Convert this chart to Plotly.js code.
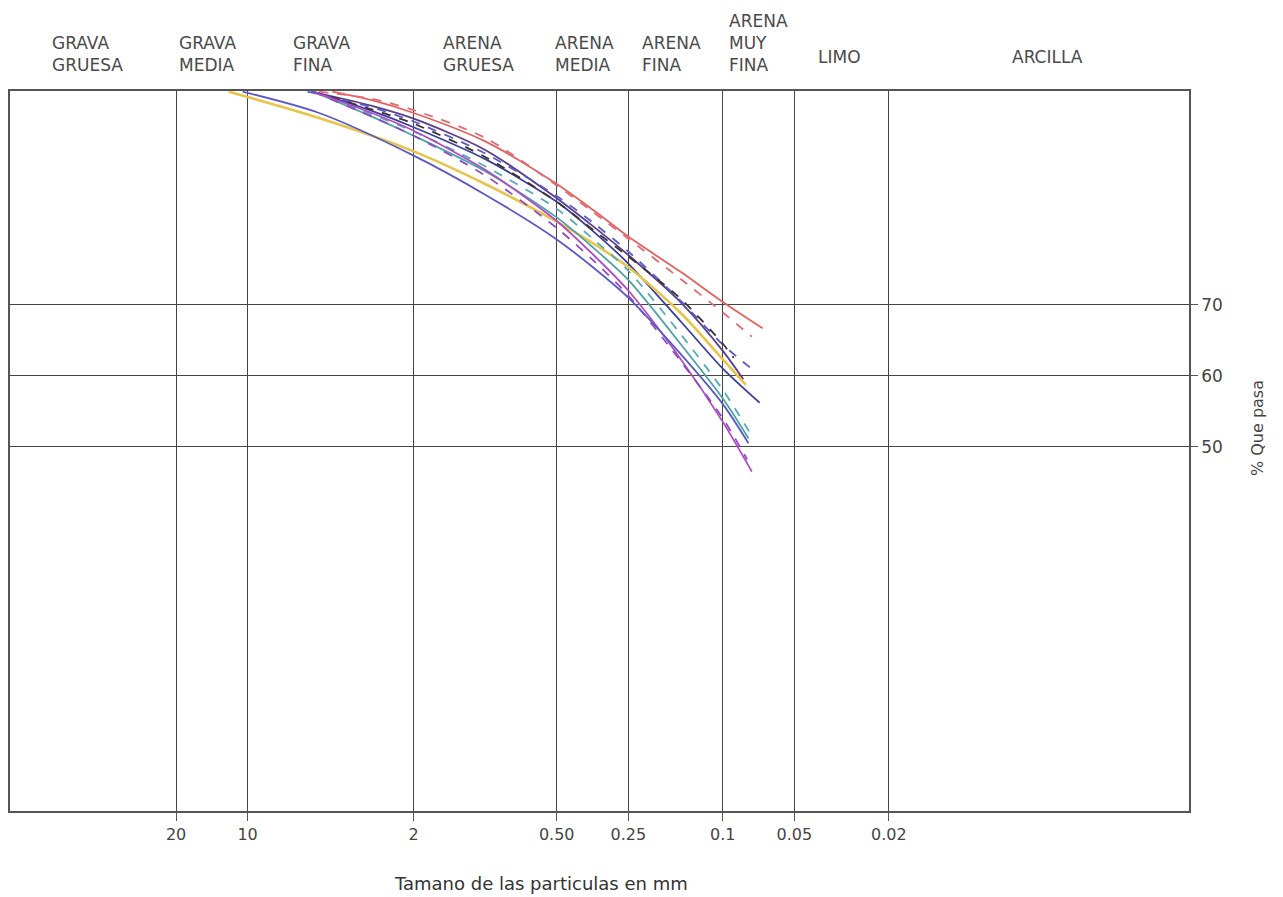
<!DOCTYPE html>
<html>
<head>
<meta charset="utf-8">
<script src="https://cdn.plot.ly/plotly-3.0.1.min.js"></script>
<style>html,body{margin:0;padding:0;background:#fff;}#chart{width:1283px;height:897px;}</style>
</head>
<body>
<div id="chart"></div>
<script>
// Particle size (mm) and % passing for each curve
const redSolidSize   = [4.4, 3, 2, 1, 0.5, 0.35, 0.25, 0.15, 0.1, 0.068];
const redSolidPct    = [100, 98.8, 97.0, 93.0, 87.0, 83.3, 79.6, 74.6, 70.4, 66.7];
const redDashSize    = [5.0, 3, 2, 1, 0.5, 0.35, 0.25, 0.15, 0.1, 0.0755];
const redDashPct     = [100, 99.0, 97.4, 93.5, 86.8, 83.0, 79.3, 73.6, 68.9, 65.5];
const purpleDarkSize = [5.4, 3, 2, 1, 0.5, 0.35, 0.25, 0.15, 0.1, 0.082];
const purpleDarkPct  = [100, 98.0, 96.2, 91.8, 85.0, 81.0, 77.0, 70.3, 63.5, 59.5];
const blueDashSize   = [5.6, 3, 2, 1, 0.5, 0.35, 0.25, 0.15, 0.1, 0.072];
const blueDashPct    = [100, 97.8, 95.8, 91.3, 85.3, 81.5, 77.5, 70.5, 64.4, 60.4];
const navySolidSize  = [5.3, 3, 2, 1, 0.5, 0.35, 0.25, 0.15, 0.1, 0.07];
const navySolidPct   = [100, 97.3, 95.0, 90.5, 84.5, 80.3, 75.8, 67.6, 61.0, 56.2];
const yellowSize     = [12.0, 5, 2, 1, 0.5, 0.35, 0.25, 0.15, 0.1, 0.08];
const yellowPct      = [100, 96.3, 91.6, 87.0, 81.7, 78.6, 75.3, 68.8, 62.3, 58.7];
const blackDashSize  = [5.3, 3, 2, 1, 0.5, 0.35, 0.25, 0.15, 0.1, 0.09];
const blackDashPct   = [100, 97.5, 95.5, 90.8, 84.5, 80.5, 76.8, 70.8, 64.5, 62.5];
const tealDashSize   = [5.3, 3, 2, 1, 0.5, 0.35, 0.25, 0.15, 0.1, 0.077];
const tealDashPct    = [100, 96.8, 94.4, 89.5, 83.5, 79.2, 74.8, 65.8, 58.0, 52.0];
const tealSolidSize  = [5.3, 3, 2, 1, 0.5, 0.35, 0.25, 0.15, 0.1, 0.078];
const tealSolidPct   = [100, 96.5, 93.8, 88.8, 82.3, 78.0, 73.5, 64.4, 56.8, 51.2];
const magentaSize    = [5.3, 3, 2, 1, 0.5, 0.35, 0.25, 0.15, 0.1, 0.0755];
const magentaPct     = [100, 97.0, 94.5, 89.0, 81.8, 77.0, 72.0, 62.3, 53.5, 46.5];
const purpleDashSize = [5.3, 3, 2, 1, 0.5, 0.35, 0.25, 0.15, 0.1, 0.079];
const purpleDashPct  = [100, 96.5, 93.8, 88.2, 80.8, 76.2, 71.3, 62.0, 54.0, 48.2];
const violetSize     = [10.5, 5, 2, 1, 0.5, 0.35, 0.25, 0.15, 0.1, 0.078];
const violetPct      = [100, 97.0, 91.0, 85.5, 79.2, 75.2, 71.0, 63.0, 56.0, 50.5];

const seriesNames  = ['rojo', 'rojo disc.', 'morado', 'azul disc.', 'azul', 'amarillo', 'negro disc.', 'verde disc.', 'verde', 'magenta', 'violeta disc.', 'violeta'];
const seriesColors = ['#e5625e', '#e26a78', '#5b3d8e', '#5a5ac8', '#3d3fa0', '#e8c54a', '#3a3434', '#54aab8', '#4aa3a4', '#b24cc4', '#9248c8', '#5b59c8'];
const seriesDash   = ['solid', 'dash', 'solid', 'dash', 'solid', 'solid', 'dash', 'dash', 'solid', 'solid', 'dash', 'solid'];
const seriesX = [redSolidSize, redDashSize, purpleDarkSize, blueDashSize, navySolidSize, yellowSize, blackDashSize, tealDashSize, tealSolidSize, magentaSize, purpleDashSize, violetSize];
const seriesY = [redSolidPct, redDashPct, purpleDarkPct, blueDashPct, navySolidPct, yellowPct, blackDashPct, tealDashPct, tealSolidPct, magentaPct, purpleDashPct, violetPct];

const xTickVals = [20, 10, 2, 0.5, 0.25, 0.1, 0.05, 0.02];
const xTickText = ['20', '10', '2', '0.50', '0.25', '0.1', '0.05', '0.02'];
const yTickVals = [50, 60, 70];
const yTickText = ['50', '60', '70'];

const classLabels = ['GRAVA<br>GRUESA', 'GRAVA<br>MEDIA', 'GRAVA<br>FINA', 'ARENA<br>GRUESA', 'ARENA<br>MEDIA', 'ARENA<br>FINA', 'ARENA<br>MUY<br>FINA', 'LIMO', 'ARCILLA'];
const classLabelX = [0.034, 0.1415, 0.238, 0.3655, 0.4605, 0.534, 0.608, 0.6835, 0.848];
const xTitle = 'Tamano de las particulas en mm';
const yTitle = '% Que pasa';

const traces = seriesX.map((xs, i) => ({
  x: xs, y: seriesY[i], type: 'scatter', mode: 'lines', name: seriesNames[i],
  line: {color: seriesColors[i], width: i === 5 ? 2.6 : 1.8, dash: seriesDash[i], shape: 'spline', smoothing: 0.8},
  hoverinfo: 'x+y'
}));

const FONT = 'DejaVu Sans, sans-serif';
const annotations = classLabels.map((t, i) => {
  const single = t.indexOf('<br>') < 0;
  return {
    text: t, xref: 'paper', yref: 'paper', x: classLabelX[i],
    y: single ? 1.047 : 1.02, xanchor: 'left', yanchor: single ? 'middle' : 'bottom',
    align: 'left', showarrow: false,
    font: {family: FONT, size: 17, color: '#4a4a4a'}
  };
});
annotations.push({
  text: xTitle, xref: 'paper', yref: 'paper', x: 0.45, y: -0.1,
  xanchor: 'center', yanchor: 'middle', showarrow: false,
  font: {family: FONT, size: 18, color: '#333'}
});
annotations.push({
  text: yTitle, xref: 'paper', yref: 'paper', x: 1.0586, y: 0.532, textangle: -90,
  xanchor: 'center', yanchor: 'middle', showarrow: false,
  font: {family: FONT, size: 16, color: '#444'}
});

const layout = {
  width: 1283, height: 897,
  margin: {l: 10, r: 94, t: 91, b: 86},
  paper_bgcolor: '#ffffff', plot_bgcolor: '#ffffff',
  showlegend: false,
  xaxis: {
    type: 'log', range: [2.0, -2.962],
    tickvals: xTickVals, ticktext: xTickText,
    ticks: 'outside', ticklen: 8, tickwidth: 1.3, tickcolor: '#555',
    showgrid: true, gridcolor: '#444', gridwidth: 1.3,
    showline: true, mirror: true, linecolor: '#555', linewidth: 1.5,
    zeroline: false,
    tickfont: {family: FONT, size: 16, color: '#444'}
  },
  yaxis: {
    range: [-1.3, 100.1], side: 'right',
    tickvals: yTickVals, ticktext: yTickText,
    ticks: 'outside', ticklen: 7, tickwidth: 1.3, tickcolor: '#555',
    showgrid: true, gridcolor: '#444', gridwidth: 1.3,
    showline: true, mirror: true, linecolor: '#555', linewidth: 1.5,
    zeroline: false,
    tickfont: {family: FONT, size: 17, color: '#444'}
  },
  annotations: annotations
};

Plotly.newPlot('chart', traces, layout, {displayModeBar: false, responsive: false});
</script>
</body>
</html>
